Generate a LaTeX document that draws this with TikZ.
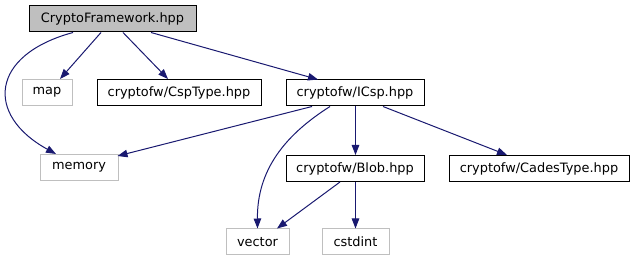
\documentclass[tikz,border=0pt]{standalone}
\usepackage{fontspec}
\setmainfont{DejaVu Sans}
\usetikzlibrary{arrows.meta}
\definecolor{edgecol}{HTML}{191970}
\definecolor{grayline}{HTML}{BFBFBF}
\tikzset{
  box/.style={draw=black, line width=1pt, inner sep=0pt, minimum height=26pt, font=\fontsize{12.9}{14}\selectfont},
  sysbox/.style={box, draw=grayline},
  mainbox/.style={box, fill=grayline},
  edge/.style={draw=edgecol, line width=1pt, -{Triangle[length=10pt,width=7.5pt]}}
}
\begin{document}
\begin{tikzpicture}[x=1pt,y=-1pt]
\useasboundingbox (0,0) rectangle (635,261);
\node[mainbox, minimum width=167pt] (cf) at (112.5,19) {CryptoFramework.hpp};
\node[sysbox, minimum width=50pt] (map) at (47,92.5) {map};
\node[box, minimum width=164pt] (csp) at (179,92.5) {cryptofw/CspType.hpp};
\node[box, minimum width=138pt] (icsp) at (355,93) {cryptofw/ICsp.hpp};
\node[sysbox, minimum width=78pt] (mem) at (79,167.5) {memory};
\node[box, minimum width=138pt] (blob) at (355,168.5) {cryptofw/Blob.hpp};
\node[box, minimum width=180pt] (cades) at (539,168.5) {cryptofw/CadesType.hpp};
\node[sysbox, minimum width=63pt] (vec) at (257.5,242) {vector};
\node[sysbox, minimum width=67pt] (cst) at (355.5,242) {cstdint};

\draw[edge] ([xshift=-11.5pt]cf.south) -- ([xshift=13pt]map.north);
\draw[edge] ([xshift=10.5pt]cf.south) -- ([xshift=-11pt]csp.north);
\draw[edge] ([xshift=38.5pt]cf.south) -- ([xshift=-37pt]icsp.north);
\draw[edge] ([xshift=-39.5pt]cf.south) .. controls (-10,55) and (-15,115) .. ([xshift=-23pt]mem.north);
\draw[edge] ([xshift=-43pt]icsp.south) -- ([xshift=-1pt,yshift=-2pt]mem.north east);
\draw[edge] ([xshift=-25pt]icsp.south) .. controls (285,135) and (257,170) .. (vec.north);
\draw[edge] ([xshift=0.5pt]icsp.south) -- ([xshift=0.5pt]blob.north);
\draw[edge] ([xshift=28pt]icsp.south) -- ([xshift=-32pt]cades.north);
\draw[edge] ([xshift=-15pt]blob.south) -- ([xshift=19.5pt]vec.north);
\draw[edge] ([xshift=0.5pt]blob.south) -- ([xshift=0.5pt]blob.south |- cst.north);
\end{tikzpicture}
\end{document}
